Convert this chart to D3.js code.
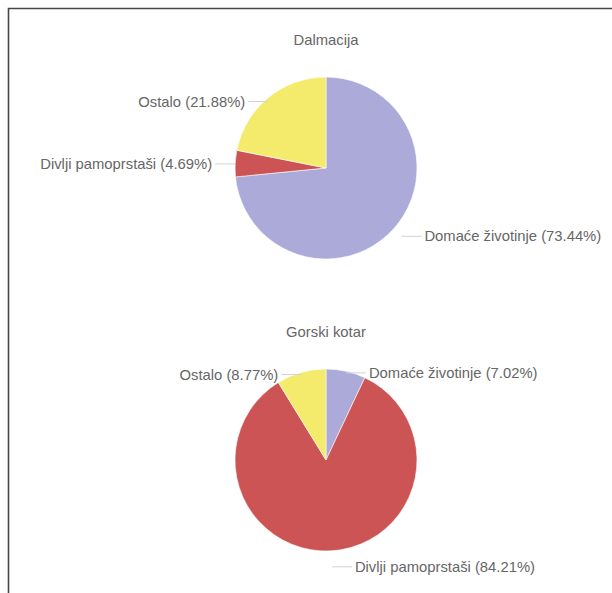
<!DOCTYPE html>
<html>
<head>
<meta charset="utf-8">
<script src="https://cdn.jsdelivr.net/npm/d3@7"></script>
<style>
  html, body { margin: 0; padding: 0; background: #fff; }
  svg { display: block; }
  text { font-family: "Liberation Sans", Arial, sans-serif; }
</style>
</head>
<body>
<svg id="chart" width="612" height="593"></svg>
<script>
// Regions and their shares (percent) by source category
const regions = ["Dalmacija", "Gorski kotar"];
const categories = ["Domaće životinje", "Divlji pamoprstaši", "Ostalo"];
const dalmacijaValues = [73.44, 4.69, 21.88];
const gorskiKotarValues = [7.02, 84.21, 8.77];
const seriesValues = [dalmacijaValues, gorskiKotarValues];

const colors = d3.scaleOrdinal()
  .domain(categories)
  .range(["#abaad8", "#cc5454", "#f4ea6c"]);

const W = 612, H = 593;
const svg = d3.select("#chart");

// Frame: top and left edges only
svg.append("path")
  .attr("d", `M8.5,${H} V8.5 H${W}`)
  .attr("fill", "none")
  .attr("stroke", "#474747")
  .attr("stroke-width", 1.6);

const panel = d3.scaleBand().domain(regions).range([8, 592]);
const cx = 326;
const radius = 91;
const fontSize = 14.8;

const pie = d3.pie().sort(null).value(d => d.value);
const arc = d3.arc().innerRadius(0).outerRadius(radius);

regions.forEach((region, i) => {
  const top = panel(region);
  const cy = top + 160;
  const g = svg.append("g");

  g.append("text")
    .attr("x", cx)
    .attr("y", top + 32)
    .attr("dy", "0.35em")
    .attr("text-anchor", "middle")
    .attr("font-size", fontSize)
    .attr("fill", "#666")
    .text(region);

  const data = categories.map((c, k) => ({ name: c, value: seriesValues[i][k] }));
  const arcs = pie(data);

  const pieG = g.append("g").attr("transform", `translate(${cx},${cy})`);
  pieG.selectAll("path")
    .data(arcs)
    .join("path")
    .attr("d", arc)
    .attr("fill", d => colors(d.data.name))
    .attr("stroke", "#fff")
    .attr("stroke-width", 0.6);

  // Labels: leader at the slice's mid-angle, pushed out a little on the lower half
  arcs.forEach(a => {
    const mid = (a.startAngle + a.endAngle) / 2;
    const s = Math.sin(mid), c = Math.cos(mid);
    const rr = radius + 16 * Math.max(0, -c);
    const px = cx + rr * s;
    const py = cy - rr * c + 4 * Math.max(0, c) * Math.abs(s) * 2;
    const dir = s >= 0 ? 1 : -1;
    const len = 20;
    g.append("line")
      .attr("x1", px).attr("y1", py)
      .attr("x2", px + dir * len).attr("y2", py)
      .attr("stroke", "#d2d2d2")
      .attr("stroke-width", 1);
    g.append("text")
      .attr("x", px + dir * (len + 3))
      .attr("y", py)
      .attr("dy", "0.35em")
      .attr("text-anchor", dir > 0 ? "start" : "end")
      .attr("font-size", fontSize)
      .attr("fill", "#666")
      .text(`${a.data.name} (${d3.format(".2f")(a.data.value)}%)`);
  });
});
</script>
</body>
</html>
